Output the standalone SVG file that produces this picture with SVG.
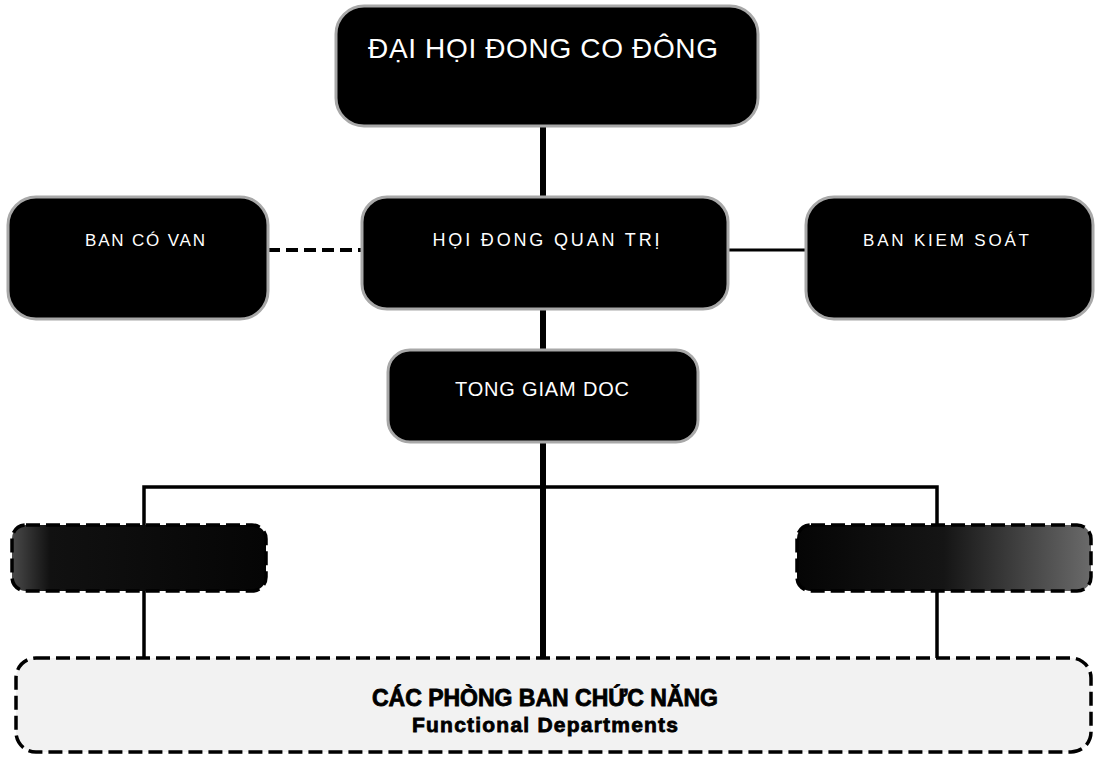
<svg xmlns="http://www.w3.org/2000/svg" width="1100" height="759" viewBox="0 0 1100 759">
<defs>
<style>
.box{fill:#000;stroke:#a8a8a8;stroke-width:3}
.t{fill:#fff;font-family:"Liberation Sans",Arial,sans-serif;text-anchor:middle}
.c{stroke:#000;fill:none}
.dash{stroke:#000;stroke-width:3.5;stroke-dasharray:14 6}
.b{fill:#000;stroke:#000;stroke-width:0.8;font-family:"Liberation Sans",Arial,sans-serif;font-weight:bold;text-anchor:middle}
</style>
<linearGradient id="gl" x1="0" x2="1" y1="0" y2="0">
<stop offset="0" stop-color="#4a4a4a"/><stop offset="0.15" stop-color="#111"/><stop offset="1" stop-color="#050505"/>
</linearGradient>
<linearGradient id="gr" x1="0" x2="1" y1="0" y2="0">
<stop offset="0" stop-color="#050505"/><stop offset="0.5" stop-color="#151515"/><stop offset="1" stop-color="#6a6a6a"/>
</linearGradient>
</defs>
<rect width="1100" height="759" fill="#fff"/>
<g id="connectors">
<line class="c" x1="543" y1="124" x2="543" y2="199" stroke-width="6"/>
<line class="c" x1="543" y1="307" x2="543" y2="352" stroke-width="6"/>
<line class="c" x1="543" y1="440" x2="543" y2="660" stroke-width="6"/>
<line class="c" x1="268" y1="250" x2="362" y2="250" stroke-width="4" stroke-dasharray="12 6"/>
<line class="c" x1="727" y1="250" x2="806" y2="250" stroke-width="3"/>
<polyline class="c" points="144,527 144,487 937,487 937,527" stroke-width="3.5"/>
<line class="c" x1="144" y1="590" x2="144" y2="660" stroke-width="3.5"/>
<line class="c" x1="937" y1="590" x2="937" y2="660" stroke-width="3.5"/>
</g>
<g id="dai-hoi-dong-co-dong">
<rect class="box" x="336" y="6" width="422" height="120" rx="28"/>
<text class="t" x="543" y="58" font-size="28" textLength="350" lengthAdjust="spacing">ĐẠI HỌI ĐONG CO ĐÔNG</text>
</g>
<g id="ban-co-van">
<rect class="box" x="8" y="197" width="260" height="122" rx="28"/>
<text class="t" x="145" y="246" font-size="17" textLength="120" lengthAdjust="spacing">BAN CÓ VAN</text>
</g>
<g id="hoi-dong-quan-tri">
<rect class="box" x="362" y="197" width="366" height="112" rx="25"/>
<text class="t" x="546" y="246" font-size="18" textLength="227" lengthAdjust="spacing">HỌI ĐONG QUAN TRỊ</text>
</g>
<g id="ban-kiem-soat">
<rect class="box" x="806" y="197" width="287" height="122" rx="28"/>
<text class="t" x="946" y="246" font-size="17" textLength="166" lengthAdjust="spacing">BAN KIEM SOÁT</text>
</g>
<g id="tong-giam-doc">
<rect class="box" x="388" y="350" width="310" height="92" rx="22"/>
<text class="t" x="542" y="396" font-size="20" textLength="174" lengthAdjust="spacing">TONG GIAM DOC</text>
</g>
<g id="left-unit">
<rect x="12" y="525" width="254" height="66" rx="14" fill="url(#gl)" class="dash"/>
</g>
<g id="right-unit">
<rect x="797" y="525" width="294" height="66" rx="14" fill="url(#gr)" class="dash"/>
</g>
<g id="functional-departments">
<rect x="16" y="658" width="1075" height="94" rx="20" fill="#f2f2f2" class="dash"/>
<text class="b" x="545" y="706" font-size="23" textLength="346" lengthAdjust="spacing">CÁC PHÒNG BAN CHỨC NĂNG</text>
<text class="b" x="545" y="732" font-size="21" textLength="266" lengthAdjust="spacing">Functional Departments</text>
</g>
</svg>
